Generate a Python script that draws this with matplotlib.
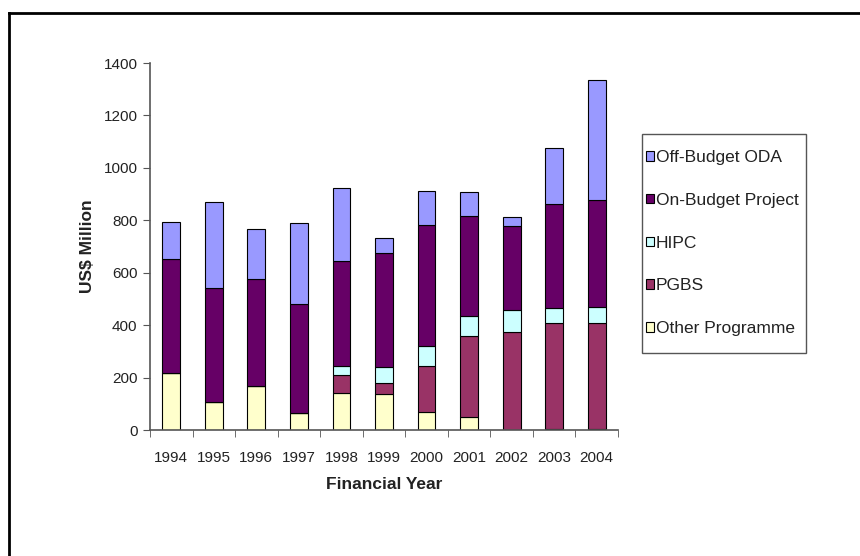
import matplotlib.pyplot as plt
import numpy as np
from matplotlib.lines import Line2D
from matplotlib.patches import Rectangle

plt.rcParams['font.family'] = ['Liberation Sans', 'DejaVu Sans']

# Data (US$ million)
years = ['1994', '1995', '1996', '1997', '1998', '1999', '2000', '2001', '2002', '2003', '2004']
other_programme = [218, 106, 169, 65, 140, 137, 70, 48, 0, 3, 3]
pgbs = [0, 0, 0, 0, 71, 44, 176, 310, 373, 407, 406]
hipc = [0, 0, 0, 0, 33, 60, 76, 77, 86, 57, 62]
on_budget = [434, 436, 408, 416, 400, 436, 459, 380, 319, 397, 406]
off_budget = [141, 326, 190, 308, 279, 55, 131, 92, 35, 212, 457]

series = [
    ('Other Programme', other_programme, '#FFFFCC'),
    ('PGBS', pgbs, '#993366'),
    ('HIPC', hipc, '#CCFFFF'),
    ('On-Budget Project', on_budget, '#660066'),
    ('Off-Budget ODA', off_budget, '#9999FF'),
]

W, H = 860, 556
fig = plt.figure(figsize=(W / 100, H / 100), dpi=100)
ax = fig.add_axes([150 / W, 1 - 430 / H, (618 - 150) / W, (430 - 63) / H])

x = np.arange(len(years))
bottom = np.zeros(len(years))
bars = {}
for name, vals, col in series:
    vals = np.array(vals, dtype=float)
    bars[name] = ax.bar(x, vals, bottom=bottom, width=0.42, color=col,
                        edgecolor='black', linewidth=0.8, label=name)
    bottom += vals

ax.set_xlim(-0.5, len(years) - 0.5)
ax.set_ylim(0, 1400)
ax.set_yticks(range(0, 1401, 200))
ax.set_xticks(x)
ax.set_xticklabels(years)
ax.set_xticks(np.arange(-0.5, len(years), 1), minor=True)
ax.tick_params(axis='x', which='major', length=0, labelsize=11, pad=15, labelcolor='#222222')
ax.tick_params(axis='x', which='minor', length=5, color='#555555', direction='out')
ax.tick_params(axis='y', length=5, color='#555555', labelsize=11, pad=4, labelcolor='#222222')
for s in ['top', 'right']:
    ax.spines[s].set_visible(False)
for s in ['left', 'bottom']:
    ax.spines[s].set_color('#555555')
    ax.spines[s].set_linewidth(1.2)

ax.set_ylabel('US$ Million', fontsize=12.5, fontweight='bold', labelpad=6, color='#222222')
ax.set_xlabel('Financial Year', fontsize=12.5, fontweight='bold', labelpad=9, color='#222222')

# legend in reverse order, frame drawn separately
handles = [bars[n] for n, _, _ in series][::-1]
labels = [n for n, _, _ in series][::-1]
leg = fig.legend(handles, labels, loc='upper left',
                 bbox_to_anchor=(646 / W, 1 - 150 / H), fontsize=12.5,
                 frameon=False, labelspacing=1.6, handlelength=0.46,
                 handleheight=0.46, handletextpad=0.1, borderpad=0,
                 borderaxespad=0)
for t in leg.get_texts():
    t.set_color('#222222')
fig.add_artist(Rectangle((642 / W, 1 - 353 / H), (806 - 642) / W, (353 - 134) / H,
                         transform=fig.transFigure, fill=False,
                         edgecolor='#555555', linewidth=1.0))

# outer frame (top and left edges visible)
fig.add_artist(Line2D([9 / W, 1], [1 - 13 / H, 1 - 13 / H], color='black', linewidth=2,
                      transform=fig.transFigure))
fig.add_artist(Line2D([9 / W, 9 / W], [0, 1 - 13 / H], color='black', linewidth=2,
                      transform=fig.transFigure))

fig.savefig('out.png', dpi=100)
